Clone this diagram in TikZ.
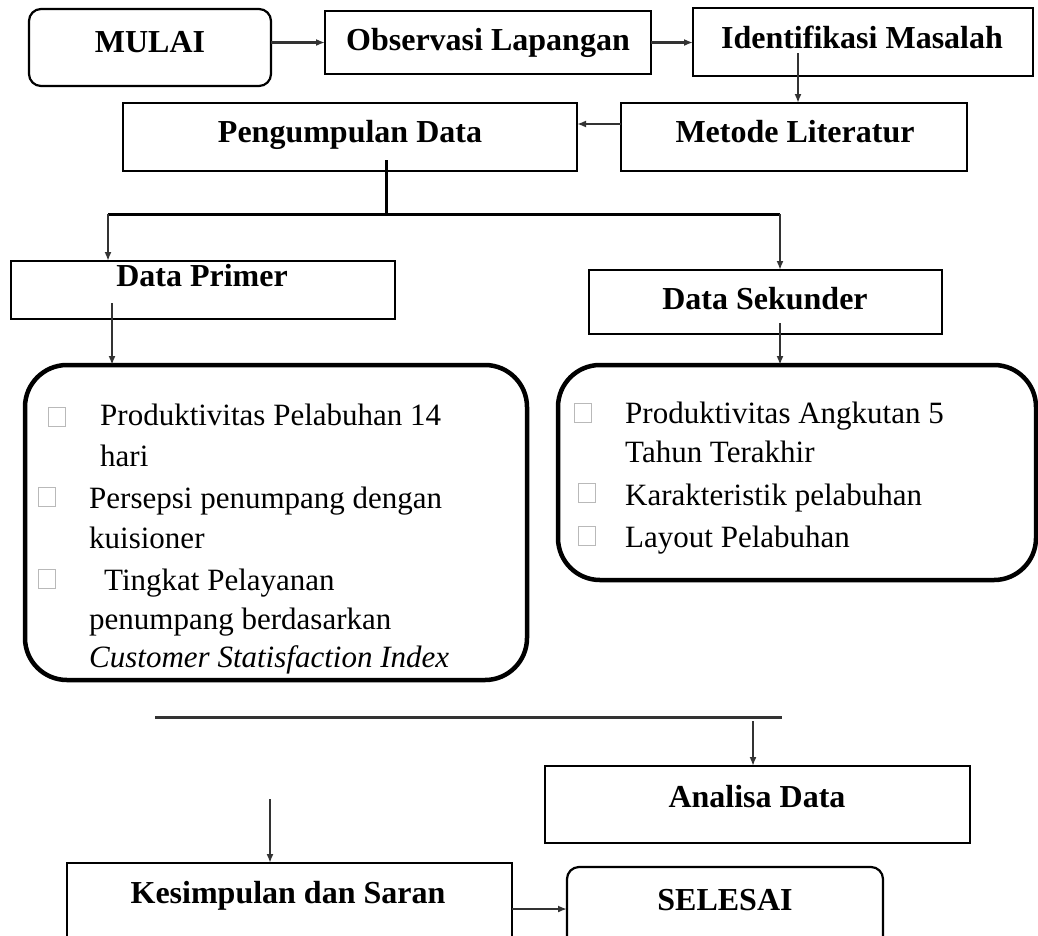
\documentclass[tikz,border=0pt]{standalone}
\usepackage{fontspec}
\setmainfont{Liberation Serif}
\usetikzlibrary{arrows.meta}
\definecolor{ln}{HTML}{333333}
\tikzset{
  box/.style={draw=black, line width=2.2pt, inner sep=0pt, outer sep=0pt},
  rbox/.style={box, rounded corners=12pt},
  bigbox/.style={draw=black, line width=4.5pt, rounded corners=42pt, inner sep=0pt, outer sep=0pt},
  ttl/.style={font=\fontsize{32}{38}\selectfont\bfseries, inner sep=0pt, anchor=base},
  body/.style={font=\fontsize{31}{37}\selectfont, inner sep=0pt, anchor=base west},
  bul/.style={draw=gray!55, line width=1pt, minimum width=17pt, minimum height=19pt, inner sep=0pt},
  conn/.style={draw=ln, line width=2.5pt, -{Latex[length=9pt,width=7pt]}},
  branch/.style={draw=black, line width=3pt},
}
\begin{document}
\begin{tikzpicture}[x=1pt,y=-1pt]
\useasboundingbox (0,0) rectangle (1038,935);
\clip (0,0) rectangle (1038,935);
% boxes
\node[rbox, minimum width=242pt, minimum height=77pt] (mulai) at (150,47.5) {};
\node[box, minimum width=326pt, minimum height=63pt] (obs) at (488,42.5) {};
\node[box, minimum width=340pt, minimum height=68pt] (iden) at (863,42) {};
\node[box, minimum width=346pt, minimum height=68pt] (met) at (794,137) {};
\node[box, minimum width=454pt, minimum height=68pt] (peng) at (350,137) {};
\node[box, minimum width=384pt, minimum height=58pt] (prim) at (203,290) {};
\node[box, minimum width=353pt, minimum height=64pt] (sek) at (765.5,302) {};
\node[bigbox, minimum width=502pt, minimum height=315pt] (primbox) at (276,522.5) {};
\node[bigbox, minimum width=478pt, minimum height=215pt] (sekbox) at (797,472.5) {};
\node[box, minimum width=425pt, minimum height=77pt] (analisa) at (757.5,804.5) {};
\node[box, minimum width=445pt, minimum height=87pt] (kes) at (289.5,906.5) {};
\node[rbox, minimum width=316pt, minimum height=85pt] (selesai) at (725,909.5) {};
% titles
\node[ttl] (tMulai) at (150,52) {MULAI};
\node[ttl] (tObs) at (488,50) {Observasi Lapangan};
\node[ttl] (tIden) at (862,48) {Identifikasi Masalah};
\node[ttl] (tMet) at (795,142) {Metode Literatur};
\node[ttl] (tPeng) at (350,142) {Pengumpulan Data};
\node[ttl] (tPrim) at (202,286) {Data Primer};
\node[ttl] (tSek) at (765,309) {Data Sekunder};
\node[ttl] (tAna) at (757,807) {Analisa Data};
\node[ttl] (tKes) at (288,903) {Kesimpulan dan Saran};
\node[ttl] (tSel) at (725,910) {SELESAI};
% primer list
\node[bul] (b1) at (57,417) {};
\node[bul] (b2) at (47,497) {};
\node[bul] (b3) at (47,579) {};
\node[body] (p1) at (100,425) {Produktivitas Pelabuhan 14};
\node[body] (p2) at (100,466) {hari};
\node[body] (p3) at (89,508) {Persepsi penumpang dengan};
\node[body] (p4) at (89,548) {kuisioner};
\node[body] (p5) at (104,590) {Tingkat Pelayanan};
\node[body] (p6) at (89,629) {penumpang berdasarkan};
\node[body] (p7) at (89,667) {\itshape Customer Statisfaction Index};
% sekunder list
\node[bul] (c1) at (583,413) {};
\node[bul] (c2) at (587,493) {};
\node[bul] (c3) at (587,536) {};
\node[body] (s1) at (625,423) {Produktivitas Angkutan 5};
\node[body] (s2) at (625,462) {Tahun Terakhir};
\node[body] (s3) at (625,505) {Karakteristik pelabuhan};
\node[body] (s4) at (625,547) {Layout Pelabuhan};
% connectors
\draw[conn] (mulai.east |- obs.west) -- (obs.west);
\draw[conn] (obs.east) -- (obs.east -| iden.west);
\coordinate (idenS) at (798,53);
\draw[conn] (idenS) -- (idenS |- met.north);
\draw[conn] ([yshift=13pt]met.west) -- ([yshift=13pt]met.west -| peng.east);
\coordinate (pengS) at (386,160);
\coordinate (brL) at (108,214);
\coordinate (brR) at (780,214);
\draw[branch] (pengS) -- (pengS |- brL);
\draw[branch] (brL) -- (brR);
\draw[conn] (brL) -- (brL |- prim.north);
\draw[conn] (brR) -- (brR |- sek.north);
\coordinate (primS) at (112,303);
\draw[conn] (primS) -- (primS |- primbox.north);
\coordinate (sekS) at (780,323);
\draw[conn] (sekS) -- (sekS |- sekbox.north);
\coordinate (hl1) at (155,717);
\coordinate (hl2) at (782,717);
\draw[draw=ln, line width=3pt] (hl1) -- (hl2);
\coordinate (anaS) at (753,721);
\draw[conn] (anaS) -- (anaS |- analisa.north);
\coordinate (kesS) at (270,799);
\draw[conn] (kesS) -- (kesS |- kes.north);
\draw[conn] ([yshift=-2.5pt]kes.east) -- ([yshift=-2.5pt]kes.east -| selesai.west);
\end{tikzpicture}
\end{document}
